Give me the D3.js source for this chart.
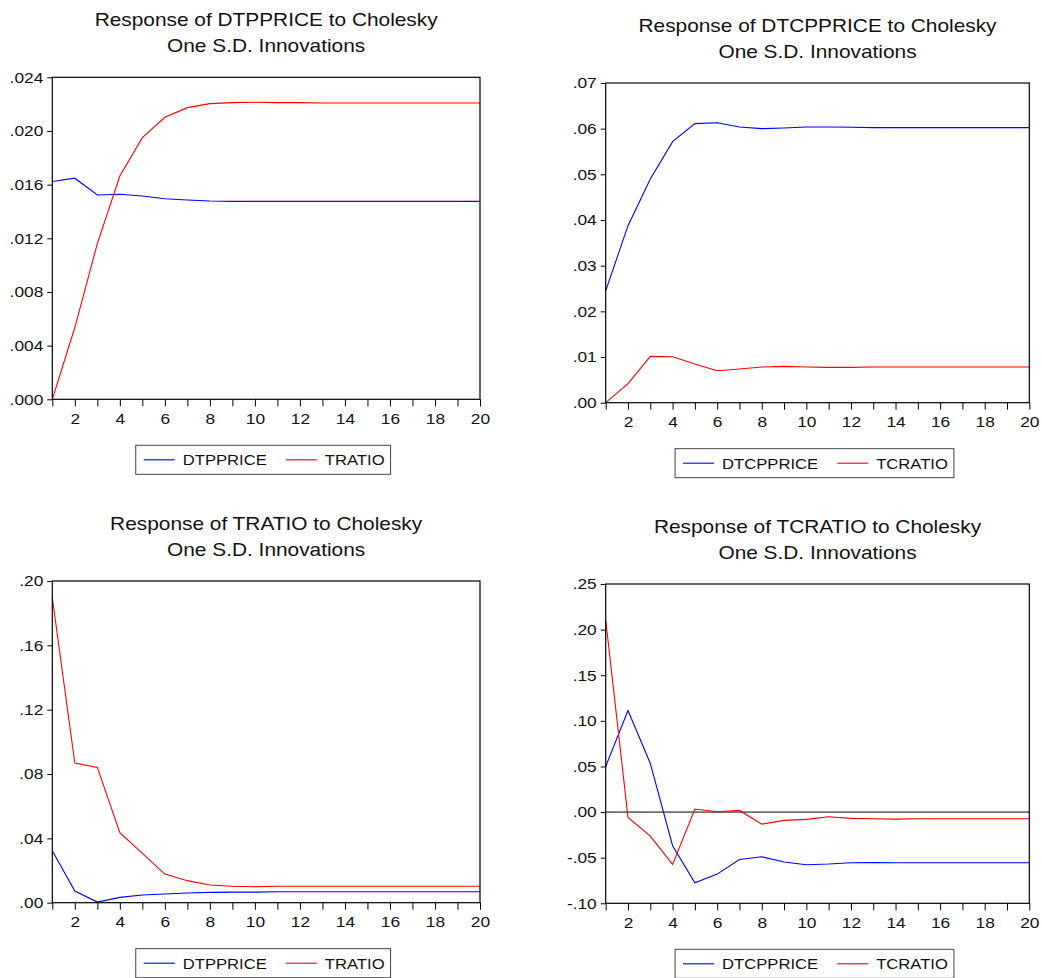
<!DOCTYPE html>
<html>
<head>
<meta charset="utf-8">
<script src="https://cdn.jsdelivr.net/npm/d3@7"></script>
<style>
  body { margin: 0; background: #fff; }
  svg { display: block; }
</style>
</head>
<body>
<div id="chart"></div>
<script>
// periods of the impulse responses
const periods = d3.range(1, 21);

// Response of DTPPRICE
const dtpprice_dtpprice = [0.01623, 0.01648, 0.01523, 0.01528, 0.01515, 0.01495, 0.01485, 0.01478, 0.01475, 0.01475,
                           0.01475, 0.01475, 0.01475, 0.01475, 0.01475, 0.01475, 0.01475, 0.01475, 0.01475, 0.01475];
const dtpprice_tratio   = [0.0000, 0.00535, 0.0116, 0.01664, 0.0195, 0.02102, 0.02174, 0.02204, 0.02211, 0.02214,
                           0.02211, 0.02211, 0.02209, 0.02209, 0.02209, 0.02209, 0.02209, 0.02209, 0.02209, 0.02209];

// Response of DTCPPRICE
const dtcpprice_dtcpprice = [0.0245, 0.03876, 0.04898, 0.05715, 0.0611, 0.06131, 0.06036, 0.0600, 0.06015, 0.06036,
                             0.06036, 0.0603, 0.06022, 0.06022, 0.06022, 0.06022, 0.06022, 0.06022, 0.06022, 0.06022];
const dtcpprice_tcratio   = [0.0000, 0.00416, 0.01015, 0.01007, 0.00847, 0.0070, 0.00737, 0.00781, 0.00796, 0.00781,
                             0.00774, 0.00774, 0.00781, 0.00781, 0.00781, 0.00781, 0.00781, 0.00781, 0.00781, 0.00781];

// Response of TRATIO
const tratio_dtpprice = [0.0323, 0.00725, 0.0004, 0.0033, 0.0048, 0.0054, 0.0060, 0.0064, 0.0066, 0.0066,
                         0.0068, 0.0068, 0.0068, 0.0068, 0.0068, 0.0068, 0.0068, 0.0068, 0.0068, 0.0068];
const tratio_tratio   = [0.1896, 0.0868, 0.0841, 0.0435, 0.0307, 0.0178, 0.0137, 0.0110, 0.0102, 0.0099,
                         0.0102, 0.0102, 0.0102, 0.0102, 0.0102, 0.0102, 0.0102, 0.0102, 0.0102, 0.0102];

// Response of TCRATIO
const tcratio_dtcpprice = [0.0500, 0.1114, 0.0533, -0.0369, -0.0775, -0.0680, -0.0519, -0.0490, -0.0548, -0.0577,
                           -0.0570, -0.0555, -0.0552, -0.0555, -0.0555, -0.0555, -0.0555, -0.0555, -0.0555, -0.0555];
const tcratio_tcratio   = [0.2105, -0.0058, -0.0263, -0.0574, 0.0033, 0.0004, 0.0018, -0.0132, -0.0091, -0.0080,
                           -0.0051, -0.0069, -0.0073, -0.0077, -0.0073, -0.0073, -0.0073, -0.0073, -0.0073, -0.0073];

// y tick values
const yTicks1 = [0, 0.004, 0.008, 0.012, 0.016, 0.020, 0.024];
const yTicks2 = [0, 0.01, 0.02, 0.03, 0.04, 0.05, 0.06, 0.07];
const yTicks3 = [0, 0.04, 0.08, 0.12, 0.16, 0.20];
const yTicks4 = [-0.10, -0.05, 0, 0.05, 0.10, 0.15, 0.20, 0.25];

const BLUE = "#0000ff", RED = "#ff0000";
const FONT = "'Liberation Sans', Arial, sans-serif";
const SX = 1.14; // the original picture is a bit stretched horizontally

const panels = [
  { title: "Response of DTPPRICE to Cholesky", box: [52.3, 480, 77.3, 399.3], domain: [0, 0.024], ticks: yTicks1, digits: 3,
    series: [{ name: "DTPPRICE", values: dtpprice_dtpprice, color: BLUE }, { name: "TRATIO", values: dtpprice_tratio, color: RED }] },
  { title: "Response of DTCPPRICE to Cholesky", box: [605.7, 1029.3, 83, 402.7], domain: [0, 0.07], ticks: yTicks2, digits: 2,
    series: [{ name: "DTCPPRICE", values: dtcpprice_dtcpprice, color: BLUE }, { name: "TCRATIO", values: dtcpprice_tcratio, color: RED }] },
  { title: "Response of TRATIO to Cholesky", box: [52.3, 480, 581, 902.7], domain: [0, 0.20], ticks: yTicks3, digits: 2,
    series: [{ name: "DTPPRICE", values: tratio_dtpprice, color: BLUE }, { name: "TRATIO", values: tratio_tratio, color: RED }] },
  { title: "Response of TCRATIO to Cholesky", box: [605.7, 1029.3, 584, 903.3], domain: [-0.10, 0.25], ticks: yTicks4, digits: 2, zeroLine: true,
    series: [{ name: "DTCPPRICE", values: tcratio_dtcpprice, color: BLUE }, { name: "TCRATIO", values: tcratio_tcratio, color: RED }] }
];

const svg = d3.select("#chart").append("svg")
  .attr("width", 1042)
  .attr("height", 978)
  .style("font-family", FONT);

function stretchText(sel, x, y) {
  return sel.attr("transform", "translate(" + x + "," + y + ") scale(" + SX + ",1)");
}

// EViews style: ".05", "-.05"
function tickLabel(digits) {
  const fmt = d3.format("." + digits + "f");
  return function(d) {
    return fmt(d).replace("\u2212", "-").replace(/^(-?)0\./, "$1.");
  };
}

panels.forEach(function(p) {
  const [x0, x1, y0, y1] = p.box;
  const g = svg.append("g");

  const x = d3.scaleLinear().domain([1, 20]).range([x0, x1]);
  const y = d3.scaleLinear().domain(p.domain).range([y1, y0]);

  // title (two lines)
  const cx = (x0 + x1) / 2;
  stretchText(g.append("text"), cx, y0 - 51)
    .attr("text-anchor", "middle").attr("font-size", "18.3px").attr("fill", "#111")
    .text(p.title);
  stretchText(g.append("text"), cx, y0 - 25)
    .attr("text-anchor", "middle").attr("font-size", "18.3px").attr("fill", "#111")
    .text("One S.D. Innovations");

  // y axis
  const yAxis = g.append("g")
    .attr("transform", "translate(" + x0 + ",0)")
    .call(d3.axisLeft(y).tickValues(p.ticks).tickSize(5).tickSizeOuter(0)
      .tickFormat(tickLabel(p.digits)));
  yAxis.select(".domain").remove();
  yAxis.selectAll("text")
    .attr("font-size", "15.2px").attr("font-family", FONT).attr("fill", "#111")
    .attr("x", -9 / SX)
    .attr("transform", "scale(" + SX + ",1)");
  yAxis.selectAll("line").attr("stroke", "#000");

  // x axis
  const xAxis = g.append("g")
    .attr("transform", "translate(0," + y1 + ")")
    .call(d3.axisBottom(x).tickValues(periods).tickSize(7).tickSizeOuter(0).tickPadding(6.5)
      .tickFormat(function(d) { return d % 2 === 0 ? d : ""; }));
  xAxis.select(".domain").remove();
  xAxis.selectAll("text")
    .attr("font-size", "15.2px").attr("font-family", FONT).attr("fill", "#111")
    .attr("transform", "scale(" + SX + ",1)")
    .attr("x", 0);
  xAxis.selectAll("line").attr("stroke", "#000");

  // zero line
  if (p.zeroLine) {
    g.append("line")
      .attr("x1", x0).attr("x2", x1)
      .attr("y1", y(0)).attr("y2", y(0))
      .attr("stroke", "#000").attr("stroke-width", 1);
  }

  // series lines
  const line = d3.line()
    .x(function(d, i) { return x(periods[i]); })
    .y(function(d) { return y(d); });

  p.series.forEach(function(s) {
    g.append("path")
      .datum(s.values)
      .attr("fill", "none")
      .attr("stroke", s.color)
      .attr("stroke-width", 1.1)
      .attr("d", line);
  });

  // frame
  g.append("rect")
    .attr("x", x0).attr("y", y0)
    .attr("width", x1 - x0).attr("height", y1 - y0)
    .attr("fill", "none").attr("stroke", "#000").attr("stroke-width", 1.2);

  // legend
  const leg = g.append("g");
  const legTop = y1 + 46;
  const legH = 29;
  let cursor = 0;
  const items = [];
  p.series.forEach(function(s, i) {
    if (i > 0) cursor += 19;
    const startLine = cursor;
    cursor += 31 + 8;
    const t = leg.append("text")
      .attr("font-size", "14.6px").attr("fill", "#111")
      .text(s.name);
    stretchText(t, cursor, legTop + legH / 2 + 5.3);
    const w = t.node().getComputedTextLength() * SX;
    items.push({ s: s, startLine: startLine, textX: cursor, t: t });
    cursor += w;
  });
  const boxW = cursor + 8 + 6;
  const boxX = cx - 3 - boxW / 2;
  leg.insert("rect", ":first-child")
    .attr("x", boxX).attr("y", legTop)
    .attr("width", boxW).attr("height", legH)
    .attr("fill", "#fff").attr("stroke", "#444").attr("stroke-width", 1);
  items.forEach(function(it) {
    const off = boxX + 8;
    leg.append("line")
      .attr("x1", off + it.startLine).attr("x2", off + it.startLine + 31)
      .attr("y1", legTop + legH / 2).attr("y2", legTop + legH / 2)
      .attr("stroke", it.s.color).attr("stroke-width", 1.1);
    stretchText(it.t, off + it.textX, legTop + legH / 2 + 5.3);
  });
});
</script>
</body>
</html>
